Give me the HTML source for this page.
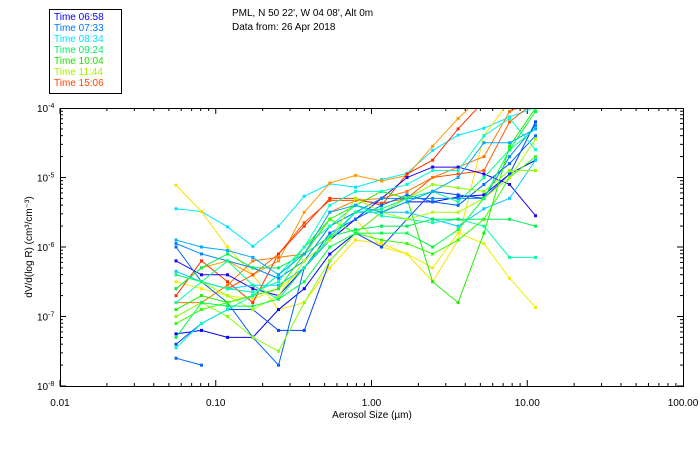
<!DOCTYPE html>
<html><head><meta charset="utf-8"><style>
body{margin:0;background:#fff;}
svg{display:block;font-family:"Liberation Sans",sans-serif;}
</style></head><body>
<svg id="chart" width="700" height="450">
<g>
<rect x="49.5" y="9.5" width="72" height="84" fill="none" stroke="#000"/>
<text x="54" y="20" font-size="10" fill="#0000ff">Time 06:58</text>
<text x="54" y="31" font-size="10" fill="#0077ff">Time 07:33</text>
<text x="54" y="42" font-size="10" fill="#00e5ff">Time 08:34</text>
<text x="54" y="53" font-size="10" fill="#00ee66">Time 09:24</text>
<text x="54" y="64" font-size="10" fill="#22dd00">Time 10:04</text>
<text x="54" y="75" font-size="10" fill="#aaee00">Time 11:44</text>
<text x="54" y="86" font-size="10" fill="#ff4400">Time 15:06</text>
</g>
<text x="232" y="16" font-size="10">PML, N 50 22', W 04 08', Alt 0m</text>
<text x="232" y="30" font-size="10">Data from: 26 Apr 2018</text>
<defs><clipPath id="pc"><rect x="60" y="108" width="623" height="278"/></clipPath></defs>
<g id="axes"></g>
<g id="series" clip-path="url(#pc)"></g>
<rect x="60.5" y="108.5" width="623" height="278" fill="none" stroke="#000"/>
<text x="372" y="418" font-size="10" text-anchor="middle">Aerosol Size (µm)</text>
<text transform="translate(32,247) rotate(-90)" font-size="10" text-anchor="middle">dV/d(log R) (cm³/cm⁻³)</text>
</svg>
<script>
const sizes=[0.0556,0.081,0.119,0.173,0.253,0.37,0.54,0.79,1.16,1.69,2.47,3.6,5.27,7.7,11.3];
const xTicks=[0.01,0.1,1,10,100];
const xTickLabels=["0.01","0.10","1.00","10.00","100.00"];
const yTicksExp=[-4,-5,-6,-7,-8];
const colors=["#00e5ff","#ffe000","#eeee00","#ff9900","#ff5500","#ff3300","#ff7700","#2200ee","#0000ff","#0066ff","#0088ff","#0044ff","#0066ff","#00ccff","#00ffaa","#00ee55","#22ee00","#33ff00","#88ff00","#aaff00","#00ff88","#00ffcc","#00aaff","#00ff44"];
const s01=[-5.45,-5.49,-5.71,-5.99,-5.70,-5.27,-5.09,-5.14,-5.03,-4.94,-4.61,-4.39,-4.29,-4.13,-3.99];
const s02=[-5.11,-5.49,-6.0,-6.4,-6.9,-6.8,-6.3,-5.9,-5.95,-6.1,-6.5,-5.9,-4.4,-3.9,-3.8];
const s03=[-6.5,-6.6,-6.7,-6.75,-6.6,-6.3,-5.9,-5.6,-6.0,-6.1,-6.3,-5.8,-5.95,-6.45,-6.87];
const s04=[-6.6,-6.3,-6.2,-6.4,-6.2,-5.5,-5.08,-4.97,-5.05,-4.97,-4.55,-4.15,-3.8,-3.7,-3.6];
const s05=[-6.4,-6.5,-6.6,-6.4,-6.1,-5.65,-5.33,-5.33,-5.37,-5.3,-5.0,-4.95,-4.9,-4.2,-3.9];
const s06=[-6.7,-6.2,-6.5,-6.8,-6.1,-5.7,-5.3,-5.3,-5.4,-4.95,-4.75,-4.3,-3.9,-3.7,-3.6];
const s07=[-6.8,-6.8,-6.55,-6.2,-6.15,-6.1,-5.5,-5.33,-5.3,-5.2,-5.0,-4.85,-4.7,-4.05,-3.9];
const s08=[-6.2,-6.4,-6.4,-6.6,-6.7,-6.3,-5.9,-5.6,-5.3,-5.0,-4.85,-4.85,-4.95,-5.1,-5.55];
const s09=[-7.25,-7.2,-7.3,-7.3,-6.9,-6.6,-6.1,-5.8,-5.5,-5.35,-5.35,-5.28,-5.25,-4.95,-4.75];
const s10=[-7.6,-7.7,null,null,null,null,null,null,null,null,null,null,null,null,null];
const s11=[-5.95,-6.1,-6.2,-6.3,-6.45,-6.2,-5.7,-5.5,-5.3,-5.3,-5.3,-5.3,-5.3,-4.7,-4.25];
const s12=[-7.4,-7.1,-6.9,-6.9,-7.2,-7.2,-6.2,-5.8,-6.0,-5.6,-5.2,-5.25,-5.3,-4.95,-4.2];
const s13=[-6.0,-6.5,-6.8,-7.3,-7.7,-6.3,-5.8,-5.6,-5.4,-5.25,-5.35,-5.4,-5.1,-4.8,-4.4];
const s14=[-6.35,-6.5,-6.6,-6.55,-6.55,-6.3,-5.9,-5.5,-5.5,-5.5,-5.6,-5.7,-5.45,-5.3,-4.75];
const s15=[-6.8,-6.5,-6.6,-6.65,-6.5,-6.0,-5.7,-5.4,-5.55,-5.6,-5.65,-5.6,-5.7,-6.15,-6.15];
const s16=[-6.6,-6.3,-6.1,-6.3,-6.3,-6.1,-5.85,-5.75,-5.7,-5.7,-5.6,-5.6,-5.6,-5.6,-5.7];
const s17=[-6.9,-6.7,-6.8,-6.7,-6.6,-6.1,-5.6,-5.4,-5.2,-5.3,-6.5,-6.8,-5.8,-4.55,-4.0];
const s18=[-7.1,-6.9,-6.8,-6.7,-6.4,-6.0,-5.6,-5.8,-5.9,-5.95,-6.1,-5.9,-5.6,-5.0,-4.7];
const s19=[-7.0,-6.8,-7.0,-7.3,-7.5,-6.8,-6.2,-5.8,-5.5,-5.3,-5.1,-5.15,-5.2,-4.9,-4.9];
const s20=[-6.4,-6.5,-6.7,-6.9,-6.7,-6.2,-5.9,-5.3,-5.5,-5.6,-5.5,-5.5,-5.3,-5.0,-4.45];
const s21=[-6.4,-6.5,-6.2,-6.55,-6.75,-6.3,-5.85,-5.5,-5.45,-5.3,-5.2,-5.35,-5.0,-4.6,-4.3];
const s22=[-7.45,-7.1,-6.9,-6.7,-6.4,-6.0,-5.4,-5.2,-5.2,-5.1,-4.9,-4.9,-4.4,-4.15,-4.6];
const s23=[-5.9,-6.0,-6.05,-6.15,-6.4,-6.1,-5.5,-5.4,-5.5,-5.35,-5.2,-5.0,-4.5,-4.5,-4.3];
const s24=[-7.3,-6.8,-6.85,-6.85,-6.75,-6.5,-6.0,-5.8,-5.8,-5.8,-6.0,-5.75,-5.3,-4.6,-4.05];
const allSeries=[s01,s02,s03,s04,s05,s06,s07,s08,s09,s10,s11,s12,s13,s14,s15,s16,s17,s18,s19,s20,s21,s22,s23,s24];

const NS="http://www.w3.org/2000/svg";
const X0=60,X1=683,Y0=386,Y1=108;
function xs(v){return X0+(Math.log10(v)+2)/4*(X1-X0);}
function ys(e){return Y0-(e+8)/4*(Y0-Y1);}
function mk(t,a,p){const e=document.createElementNS(NS,t);for(const k in a)e.setAttribute(k,a[k]);p.appendChild(e);return e;}
const ax=document.getElementById('axes');
for(let d=-2;d<2;d++){for(let m=1;m<10;m++){const x=xs(m*Math.pow(10,d));const L=m===1?6:3;
 const t1=mk('line',{x1:x,x2:x,y1:Y0,y2:Y0-L,stroke:'#000'},ax);
 
 
 const t2=mk('line',{x1:x,x2:x,y1:Y1,y2:Y1+L,stroke:'#000'},ax);
 
 }}
for(let d=-8;d<-4;d++){for(let m=1;m<10;m++){const y=ys(d+Math.log10(m));const L=m===1?6:3;
 const t1=mk('line',{x1:X0,x2:X0+L,y1:y,y2:y,stroke:'#000'},ax);
 
 
 const t2=mk('line',{x1:X1,x2:X1-L,y1:y,y2:y,stroke:'#000'},ax);
 
 }}
xTicks.forEach((v,i)=>{const t=mk('text',{x:xs(v),y:406,'font-size':10,'text-anchor':'middle'},ax);t.textContent=xTickLabels[i];
 
 });
yTicksExp.forEach(e=>{const t=mk('text',{x:37,y:ys(e)+4,'font-size':10},ax);t.textContent='10';
 const s=mk('tspan',{dy:-4,'font-size':7},t);s.textContent=String(e);
 
 });
const sg=document.getElementById('series');
allSeries.forEach((s,i)=>{const g=mk('g',{},sg);
 
 
 const pts=[];s.forEach((v,j)=>{if(v!==null)pts.push([xs(sizes[j]),ys(v)]);});
 const pl=mk('polyline',{points:pts.map(p=>p.join(',')).join(' '),fill:'none',stroke:colors[i],'stroke-width':1},g);
 
 
 pts.forEach(p=>{const r=mk('rect',{x:p[0]-1.5,y:p[1]-1.5,width:3,height:3,fill:colors[i]},g);
 
 });});
</script>
</body></html>
